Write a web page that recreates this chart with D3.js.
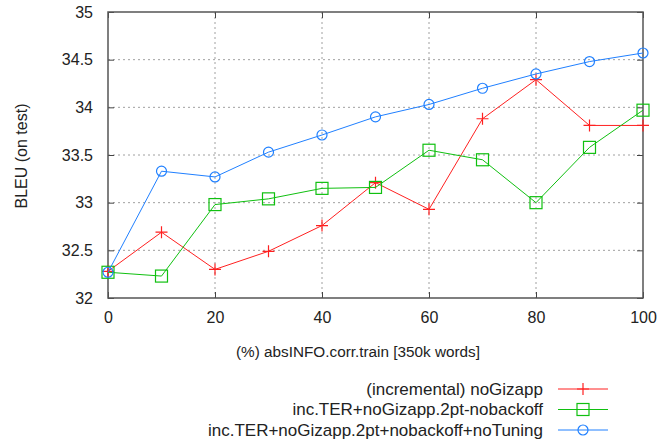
<!DOCTYPE html>
<html>
<head>
<meta charset="utf-8">
<script src="https://cdn.jsdelivr.net/npm/d3@7"></script>
<style>
body { margin: 0; background: #fff; }
text { font-family: "Liberation Sans", Arial, sans-serif; fill: #222; }
</style>
</head>
<body>
<svg id="chart" width="671" height="440"></svg>
<script>
var xValues = [0, 10, 20, 30, 40, 50, 60, 70, 80, 90, 100];
var redValues = [32.28, 32.69, 32.30, 32.49, 32.76, 33.21, 32.93, 33.88, 34.29, 33.81, 33.81];
var greenValues = [32.27, 32.23, 32.98, 33.04, 33.15, 33.16, 33.55, 33.45, 33.00, 33.58, 33.97];
var blueValues = [32.27, 33.33, 33.27, 33.53, 33.71, 33.90, 34.03, 34.20, 34.35, 34.48, 34.57];
var seriesNames = ["(incremental) noGizapp", "inc.TER+noGizapp.2pt-nobackoff", "inc.TER+noGizapp.2pt+nobackoff+noTuning"];
var xTicks = [0, 20, 40, 60, 80, 100];
var yTicks = [32, 32.5, 33, 33.5, 34, 34.5, 35];

var plotLeft = 108, plotRight = 643, plotTop = 12, plotBottom = 298;

var svg = d3.select("#chart");
var x = d3.scaleLinear().domain([0, 100]).range([plotLeft, plotRight]);
var y = d3.scaleLinear().domain([32, 35]).range([plotBottom, plotTop]);

// grid
svg.append("g").selectAll("line").data(yTicks.slice(1, -1)).join("line")
  .attr("x1", plotLeft).attr("x2", plotRight)
  .attr("y1", d => y(d)).attr("y2", d => y(d))
  .attr("stroke", "#a0a0a0").attr("stroke-dasharray", "2,3");
svg.append("g").selectAll("line").data(xTicks.slice(1, -1)).join("line")
  .attr("y1", plotTop).attr("y2", plotBottom)
  .attr("x1", d => x(d)).attr("x2", d => x(d))
  .attr("stroke", "#a0a0a0").attr("stroke-dasharray", "2,3");

// axes, ticks pointing inward
function fmt(d) { return d3.format("~g")(d); }
svg.append("g").attr("transform", "translate(0," + plotBottom + ")")
  .call(d3.axisBottom(x).tickValues(xTicks).tickSize(-6).tickPadding(14).tickFormat(fmt));
svg.append("g").attr("transform", "translate(0," + plotTop + ")")
  .call(d3.axisTop(x).tickValues(xTicks).tickSize(-6).tickFormat(""));
svg.append("g").attr("transform", "translate(" + plotLeft + ",0)")
  .call(d3.axisLeft(y).tickValues(yTicks).tickSize(-6).tickPadding(15).tickFormat(fmt));
svg.append("g").attr("transform", "translate(" + plotRight + ",0)")
  .call(d3.axisRight(y).tickValues(yTicks).tickSize(-6).tickFormat(""));
svg.selectAll(".domain").remove();
svg.selectAll(".tick line").attr("stroke", "#444");
svg.selectAll(".tick text").attr("font-size", 16).attr("fill", "#222")
  .attr("font-family", "Liberation Sans, Arial, sans-serif");

svg.append("rect").attr("x", plotLeft).attr("y", plotTop)
  .attr("width", plotRight - plotLeft).attr("height", plotBottom - plotTop)
  .attr("fill", "none").attr("stroke", "#555").attr("stroke-width", 1.5);

// labels
svg.append("text").attr("x", 358).attr("y", 357)
  .attr("text-anchor", "middle").attr("font-size", 15.3)
  .text("(%) absINFO.corr.train [350k words]");
svg.append("text").attr("transform", "translate(27,156) rotate(-90)")
  .attr("text-anchor", "middle").attr("font-size", 16)
  .text("BLEU (on test)");

var series = [
  { name: seriesNames[0], values: redValues, color: "#ff2020", mark: "plus" },
  { name: seriesNames[1], values: greenValues, color: "#10c010", mark: "square" },
  { name: seriesNames[2], values: blueValues, color: "#2080ff", mark: "circle" }
];

var line = d3.line().x((d, i) => x(xValues[i])).y(d => y(d));

function drawMark(g, type, color) {
  if (type === "plus") {
    g.append("path").attr("d", "M-6,0H6M0,-6V6").attr("stroke", color).attr("stroke-width", 1.2);
  } else if (type === "square") {
    g.append("rect").attr("x", -6).attr("y", -6).attr("width", 12).attr("height", 12)
      .attr("fill", "none").attr("stroke", color).attr("stroke-width", 1.2);
  } else {
    g.append("circle").attr("r", 5).attr("fill", "none").attr("stroke", color).attr("stroke-width", 1.2);
  }
}

series.forEach(function (s) {
  svg.append("path").attr("d", line(s.values))
    .attr("fill", "none").attr("stroke", s.color).attr("stroke-width", 1);
  s.values.forEach(function (v, i) {
    var g = svg.append("g").attr("transform", "translate(" + x(xValues[i]) + "," + y(v) + ")");
    drawMark(g, s.mark, s.color);
  });
});

// legend
var legend = svg.append("g");
series.forEach(function (s, i) {
  var ly = 389 + i * 20.5;
  legend.append("text").attr("x", 543).attr("y", ly).attr("dy", "0.35em")
    .attr("text-anchor", "end").attr("font-size", 17).text(s.name);
  legend.append("line").attr("x1", 558).attr("x2", 608).attr("y1", ly).attr("y2", ly)
    .attr("stroke", s.color).attr("stroke-width", 1);
  drawMark(legend.append("g").attr("transform", "translate(583," + ly + ")"), s.mark, s.color);
});
</script>
</body>
</html>
